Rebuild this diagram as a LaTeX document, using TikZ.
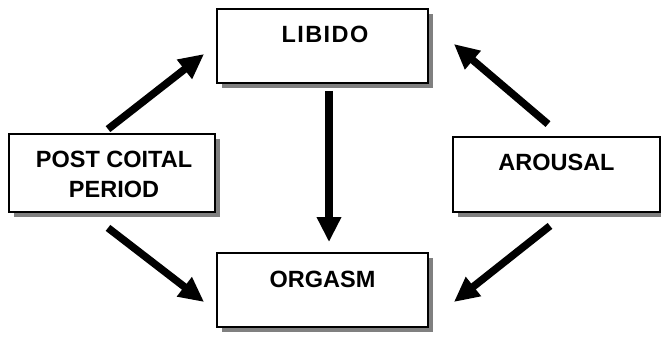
\documentclass[tikz,border=0pt]{standalone}
\usepackage{fontspec}
\setmainfont{Liberation Sans}
\usetikzlibrary{arrows.meta,shadows,calc}
\begin{document}
\begin{tikzpicture}[x=1pt,y=-1pt,
  box/.style={draw=black,line width=1.8pt,fill=white,
    drop shadow={shadow xshift=5pt,shadow yshift=-5pt,fill=black!50,opacity=1},
    inner sep=0pt},
  lbl/.style={font=\fontsize{23.5}{30}\selectfont\bfseries,align=center,inner sep=0pt},
  bigarrow/.style={line width=7.5pt,-{Triangle[width=23pt,length=25pt]}}]
\useasboundingbox (0,0) rectangle (661,337);
\node[box,minimum width=211pt,minimum height=74pt] (libido) at (322.5,46) {};
\node[box,minimum width=211pt,minimum height=74pt] (orgasm) at (322.5,290) {};
\node[box,minimum width=206pt,minimum height=78pt] (post) at (112,173) {};
\node[box,minimum width=207pt,minimum height=75pt] (arousal) at (556.5,174.5) {};
\node[lbl] (libidot) at ($(libido.north)+(2.5,26)$) {\addfontfeature{LetterSpace=6}LIBIDO};
\node[lbl] (orgasmt) at ($(orgasm.north)+(0,27)$) {ORGASM};
\node[lbl] (arousalt) at ($(arousal.north)+(0,26)$) {AROUSAL};
\node[lbl] (postt) at ($(post.north)+(2,41)$) {POST COITAL\\PERIOD};
\draw[bigarrow] ($(post.north)+(-4,-4)$) -- ($(libido.west)+(-12,8)$);
\draw[bigarrow] ($(post.south)+(-4,15)$) -- ($(orgasm.west)+(-12,12)$);
\draw[bigarrow] ($(libido.south)+(6.5,7)$) -- ($(orgasm.north)+(6.5,-10)$);
\draw[bigarrow] ($(arousal.north)+(-8.5,-12)$) -- ($(libido.east)+(25,-2)$);
\draw[bigarrow] ($(arousal.south)+(-6.5,13)$) -- ($(orgasm.east)+(25,12)$);
\end{tikzpicture}
\end{document}
